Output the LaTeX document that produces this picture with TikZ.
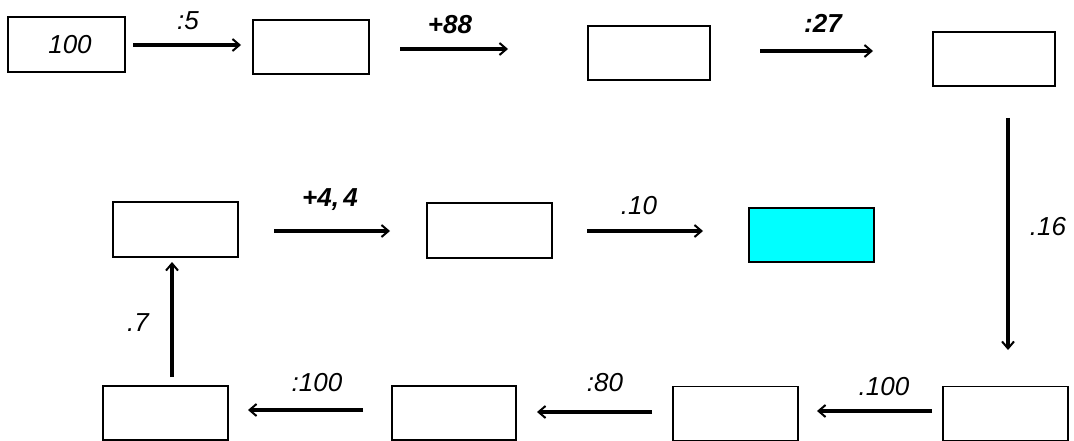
\documentclass[tikz,border=0pt]{standalone}
\usepackage{fontspec}
\setmainfont{Liberation Sans}
\usetikzlibrary{arrows.meta}
\definecolor{boxcyan}{RGB}{0,255,255}
\tikzset{
  box/.style={draw=black, line width=1.6pt, minimum width=#1, minimum height=54pt, inner sep=0pt, outer sep=0pt},
  box/.default=124pt,
  flow/.style={line width=3.2pt, -{Straight Barb[length=7pt,width=12pt,line width=2pt]}},
  lab/.style={font=\fontsize{26}{30}\selectfont\itshape, inner sep=0pt},
  blab/.style={font=\fontsize{26}{30}\selectfont\bfseries\itshape, inner sep=0pt}
}
\begin{document}
\begin{tikzpicture}[x=1pt,y=-1pt]
\useasboundingbox (0,0) rectangle (1074,441);
% boxes
\node[box=117pt, minimum height=55pt] (b1) at (66.5,44.5) {};
\node[lab] (t1) at (70,45) {100};
\node[box=116pt] (b2) at (311,47) {};
\node[box=122pt] (b3) at (649,53) {};
\node[box=122pt] (b4) at (994,59) {};
\node[box=125pt, minimum height=55pt] (b5) at (175.5,229.5) {};
\node[box=125pt, minimum height=55pt] (b6) at (489.5,230.5) {};
\node[box=125pt, fill=boxcyan] (b7) at (811.5,235) {};
\node[box=125pt] (b8) at (165.5,413) {};
\node[box=124pt] (b9) at (454,413) {};
\node[box=125pt] (b10) at (735.5,413.5) {};
\node[box=125pt] (b11) at (1005.5,413.5) {};
% arrow endpoints
\coordinate (a1s) at (133,45);  \coordinate (a1e) at (241,45);
\coordinate (a2s) at (400,49);  \coordinate (a2e) at (508,49);
\coordinate (a3s) at (760,51);  \coordinate (a3e) at (873,51);
\coordinate (a4s) at (1008,118); \coordinate (a4e) at (1008,350);
\coordinate (a5s) at (932,411); \coordinate (a5e) at (817,411);
\coordinate (a6s) at (652,412); \coordinate (a6e) at (537,412);
\coordinate (a7s) at (363,410); \coordinate (a7e) at (248,410);
\coordinate (a8s) at (172,377); \coordinate (a8e) at (172,262);
\coordinate (a9s) at (274,231); \coordinate (a9e) at (390,231);
\coordinate (a10s) at (587,231); \coordinate (a10e) at (703,231);
\draw[flow] (a1s) -- (a1e);
\draw[flow] (a2s) -- (a2e);
\draw[flow] (a3s) -- (a3e);
\draw[flow] (a4s) -- (a4e);
\draw[flow] (a5s) -- (a5e);
\draw[flow] (a6s) -- (a6e);
\draw[flow] (a7s) -- (a7e);
\draw[flow] (a8s) -- (a8e);
\draw[flow] (a9s) -- (a9e);
\draw[flow] (a10s) -- (a10e);
% labels
\node[lab] (l1) at (188,21) {:5};
\node[blab] (l2) at (450,25) {+88};
\node[blab] (l3) at (823,23) {:27};
\node[lab] (l4) at (1048,227) {.16};
\node[lab] (l5) at (884,387) {.100};
\node[lab] (l6) at (605,383) {:80};
\node[lab] (l7) at (317,383) {:100};
\node[lab] (l8) at (138,323) {.7};
\node[blab] (l9) at (330,200) {+4,\,4};
\node[lab] (l10) at (639,206) {.10};
\end{tikzpicture}
\end{document}
